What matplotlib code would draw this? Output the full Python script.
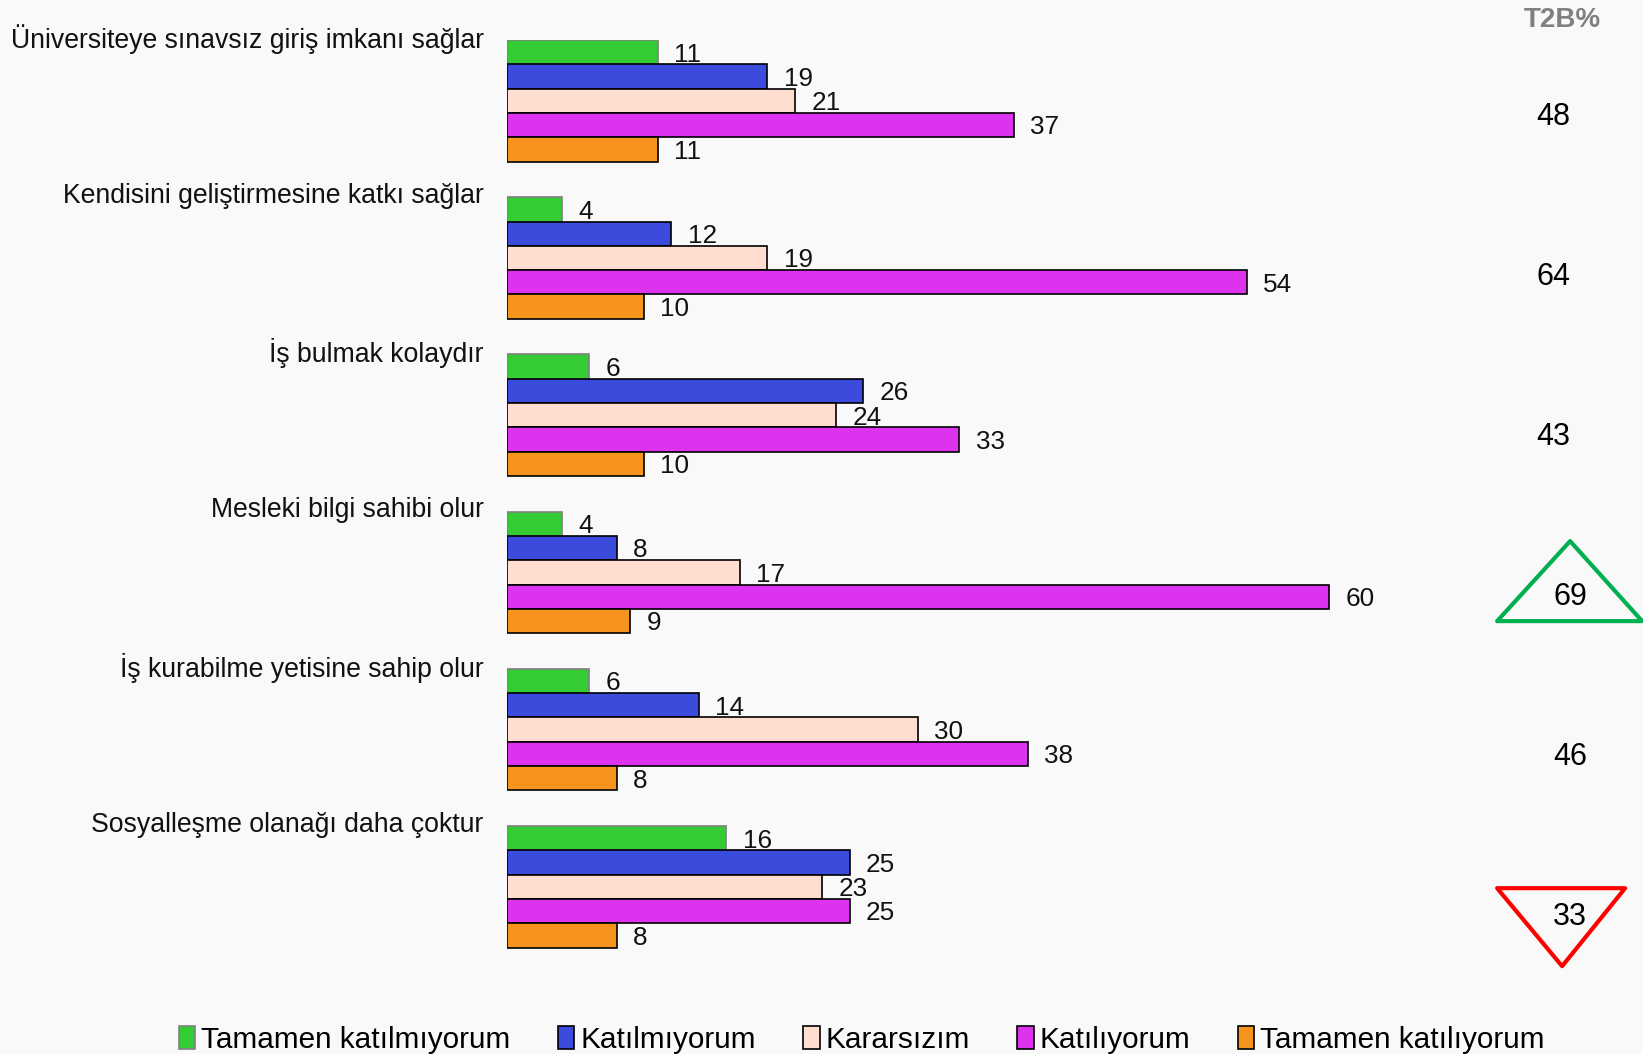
#!/usr/bin/env python3
"""
Horizontal grouped bar chart of agreement levels with T2B% column.
"""

import matplotlib
matplotlib.use('Agg')
import matplotlib.pyplot as plt
from matplotlib.patches import Polygon
import numpy as np

# Data
statements = [
    'Üniversiteye sınavsız giriş imkanı sağlar',
    'Kendisini geliştirmesine katkı sağlar',
    'İş bulmak kolaydır',
    'Mesleki bilgi sahibi olur',
    'İş kurabilme yetisine sahip olur',
    'Sosyalleşme olanağı daha çoktur',
]
series_names = ['Tamamen katılmıyorum', 'Katılmıyorum', 'Kararsızım',
                'Katılıyorum', 'Tamamen katılıyorum']
values = [
    [11, 4, 6, 4, 6, 16],    # Tamamen katılmıyorum
    [19, 12, 26, 8, 14, 25], # Katılmıyorum
    [21, 19, 24, 17, 30, 23],# Kararsızım
    [37, 54, 33, 60, 38, 25],# Katılıyorum
    [11, 10, 10, 9, 8, 8],   # Tamamen katılıyorum
]
t2b = [48, 64, 43, 69, 46, 33]
t2b_marks = [None, None, None, 'up', None, 'down']

colors = ['#33CC33', '#3B4BDB', '#FFDDD0', '#DD33EE', '#F7941D']
edges = ['#808080', 'black', 'black', 'black', 'black']

plt.rcParams['font.family'] = ['Liberation Sans', 'DejaVu Sans']
BG = '#f9f9f9'

W, H = 1643, 1054
fig = plt.figure(figsize=(W / 100, H / 100), dpi=100, facecolor=BG)

# axes geometry in pixels
x0_px, top_px = 507, 40
px_per_unit = 13.7
group_px = 157.2
xmax = 80
ax = fig.add_axes([x0_px / W, 1 - (top_px + 6 * group_px) / H,
                   xmax * px_per_unit / W, 6 * group_px / H])
ax.set_facecolor(BG)
ax.set_xlim(0, xmax)
ax.set_ylim(6, 0)
ax.axis('off')

bar_h = 24.3 / group_px
groups = np.arange(len(statements))
handles = []
for j, (name, vals) in enumerate(zip(series_names, values)):
    yc = groups + (j + 0.5) * bar_h
    b = ax.barh(yc, vals, height=bar_h, color=colors[j], edgecolor=edges[j],
                linewidth=1.2, label=name)
    handles.append(b)
    for y, v in zip(yc, vals):
        ax.text(v + 1.2, y + 0.015, str(v), va='center', ha='left',
                fontsize=18.8, color='#111111')

# statement labels
for i, s in enumerate(statements):
    ax.text(-1.7, i - 0.008, s, ha='right', va='center', fontsize=19.2,
            color='#111111')

# T2B column
ax.text(77.0, -0.125, 'T2B%', ha='center', va='center', fontsize=20,
        fontweight='bold', color='#808080')
ux = 1 / px_per_unit
uy = 1 / group_px
for i, (v, m) in enumerate(zip(t2b, t2b_marks)):
    yc = i + 0.49 + 0.018 * i
    xc = 76.4 if i < 3 else 77.6
    ax.text(xc, yc, str(v), ha='center', va='center', fontsize=22)
    if m is None:
        continue
    if m == 'up':
        pts = [(xc, yc - 56 * uy), (xc - 73 * ux, yc + 24 * uy),
               (xc + 72 * ux, yc + 24 * uy)]
        col = '#00B050'
    else:
        xt = xc - 8 * ux
        pts = [(xt - 65 * ux, yc - 29 * uy), (xt + 63 * ux, yc - 29 * uy),
               (xt, yc + 49 * uy)]
        col = '#FF0000'
    ax.add_patch(Polygon(pts, closed=True, fill=False, edgecolor=col,
                         linewidth=3, joinstyle='round', clip_on=False))

fig.legend(handles=handles, labels=series_names, loc='center',
           bbox_to_anchor=(0.5245, 1 - 1040 / H), ncol=5, frameon=False,
           fontsize=21.4, handlelength=0.55, handleheight=0.8,
           handletextpad=0.2, columnspacing=1.6, borderaxespad=0)

fig.savefig('out.png', dpi=100, facecolor=BG)
